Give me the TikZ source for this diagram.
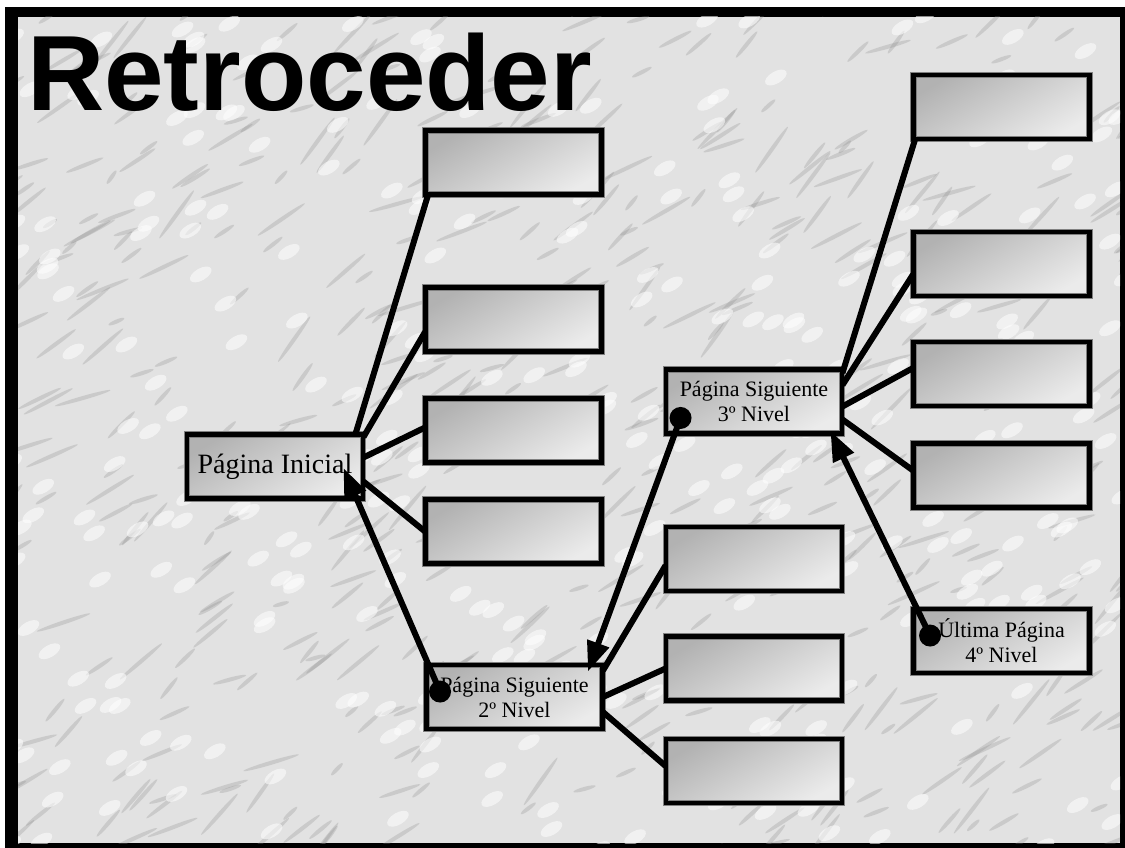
\documentclass[tikz,border=0pt]{standalone}
\usepackage{fontspec}
\setmainfont{Liberation Serif}
\newfontfamily\headfont{Liberation Sans}
\usetikzlibrary{arrows.meta}

\definecolor{marble}{RGB}{226,226,226}
\definecolor{vein}{RGB}{140,140,140}

\tikzset{
  page/.style={draw=gray, double=black, double distance=4.5pt, line width=0.9pt,
    shading=axis, top color=black!30, bottom color=black!8, shading angle=30,
    minimum width=176pt, minimum height=64pt, inner sep=2pt, align=center,
    font=\fontsize{22}{25}\selectfont},
  link/.style={line width=6pt},
  back/.style={line width=6pt, -{Triangle[length=30pt,width=22pt]}},
}

\begin{document}
\begin{tikzpicture}[x=1pt, y=-1pt]
  \useasboundingbox (0,0) rectangle (1125,848);
  \fill[white] (0,0) rectangle (1125,848);

  % Frame and marble ground
  \fill[black] (5,7) rectangle (1125,848);
  \begin{scope}
    \clip (18,17) rectangle (1120,843);
    \fill[marble] (18,17) rectangle (1120,843);
    \pgfmathsetseed{11}
    \foreach \i in {1,...,500} {
      \pgfmathsetmacro{\px}{rnd*1140}
      \pgfmathsetmacro{\py}{rnd*860}
      \pgfmathsetmacro{\pl}{8+rnd*22}
      \pgfmathsetmacro{\pa}{15+rnd*40}
      \fill[vein, opacity=0.28, rotate around={\pa:(\px,\py)}] (\px,\py) ellipse ({\pl} and 2);
    }
    \foreach \i in {1,...,350} {
      \pgfmathsetmacro{\px}{rnd*1140}
      \pgfmathsetmacro{\py}{rnd*860}
      \fill[white, opacity=0.55, rotate around={30:(\px,\py)}] (\px,\py) ellipse (12 and 6);
    }
  \end{scope}

  % Title
  \node[anchor=base west, inner sep=0, font=\headfont\bfseries\fontsize{107}{107}\selectfont] (title) at (27,111) {Retroceder};

  % Pages
  \node[page, font=\fontsize{28}{30}\selectfont] (ini) at (275,466.5) {Página Inicial};
  \node[page] (a1) at (513.5,162.5) {};
  \node[page] (a2) at (513.5,319.5) {};
  \node[page] (a3) at (513.5,430.5) {};
  \node[page] (a4) at (513.5,531.5) {};

  \node[page] (sig2) at (514.5,697) {Página Siguiente\\2º Nivel};
  \node[page] (b1) at (754,559) {};
  \node[page] (b2) at (754,668.5) {};
  \node[page] (b3) at (754,771) {};

  \node[page] (sig3) at (754,401.5) {Página Siguiente\\3º Nivel};
  \node[page] (c1) at (1001.5,107) {};
  \node[page] (c2) at (1001.5,264) {};
  \node[page] (c3) at (1001.5,374) {};
  \node[page] (c4) at (1001.5,475.5) {};

  \node[page] (ult) at (1001.5,641) {Última Página\\4º Nivel};

  % Links to the pages of each level
  \draw[link] ([xshift=-8pt]ini.north east) -- ([xshift=3pt]a1.south west);
  \draw[link] ([yshift=-3pt]ini.north east) -- ([yshift=20pt]a2.south west);
  \draw[link] ([yshift=9pt]ini.east) -- ([yshift=3pt]a3.west);
  \draw[link] ([yshift=-15pt]ini.east) -- (a4.west);

  \draw[link] ([yshift=-6pt]sig2.north east) -- ([yshift=26pt]b1.south west);
  \draw[link] (sig2.east) -- (b2.west);
  \draw[link] ([yshift=-15pt]sig2.east) -- ([yshift=5pt]b3.west);

  \draw[link] ([yshift=-4pt]sig3.north east) -- ([xshift=2pt]c1.south west);
  \draw[link] ([yshift=-16pt]sig3.north east) -- ([yshift=22pt]c2.south west);
  \draw[link] ([yshift=-5pt]sig3.east) -- ([yshift=6pt]c3.west);
  \draw[link] ([yshift=-18pt]sig3.east) -- ([yshift=5pt]c4.west);

  % Going back
  \coordinate (d2) at ([xshift=14pt,yshift=-27pt]sig2.north west);
  \coordinate (d3) at ([xshift=15pt,yshift=16pt]sig3.south west);
  \coordinate (d4) at ([xshift=17pt,yshift=-27pt]ult.north west);
  \draw[back] (d2) -- ([xshift=-20pt,yshift=31pt]ini.south east);
  \draw[back] (d3) -- ([xshift=-15pt,yshift=-7pt]sig2.north east);
  \draw[back] (d4) -- ([xshift=-12pt,yshift=3pt]sig3.south east);
  \foreach \d in {d2,d3,d4}
    \fill (\d) circle (11pt);
\end{tikzpicture}
\end{document}
